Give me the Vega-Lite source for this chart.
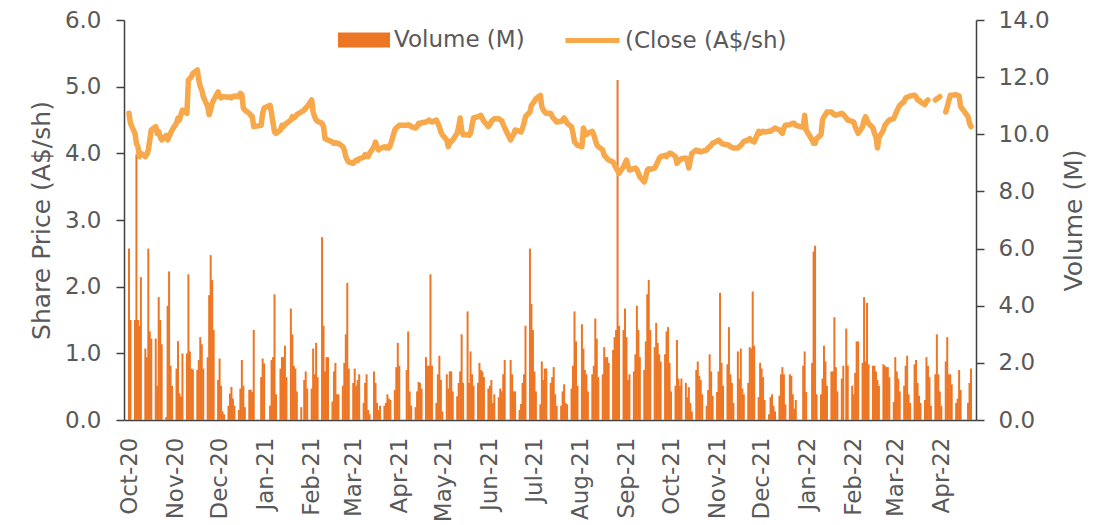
{
"$schema":"https://vega.github.io/schema/vega-lite/v6.json",
"autosize":{"type":"none"},
"width":852,"height":400,
"padding":{"left":124,"top":20,"right":131,"bottom":105},
"config":{"font":"DejaVu Sans","view":{"stroke":null},
 "axis":{"domainColor":"#404040","domainWidth":1.5,"tickColor":"#404040","tickWidth":1.5,"tickSize":8,"labelColor":"#595959","labelFontSize":23,"titleColor":"#595959","titleFontSize":25,"titleFontWeight":"normal","grid":false},
 "legend":{"labelColor":"#595959","labelFontSize":23,"padding":0,"labelLimit":400}},
"data":{"values":[
{"d":"2020-10-01","v":6.0,"c":4.60},{"d":"2020-10-02","v":3.5,"c":4.45},
{"d":"2020-10-05","v":3.5,"c":4.30},{"d":"2020-10-06","v":9.3,"c":4.15},{"d":"2020-10-07","v":3.5,"c":4.10},{"d":"2020-10-08","v":3.3,"c":3.95},{"d":"2020-10-09","v":5.0,"c":4.00},
{"d":"2020-10-12","v":2.5,"c":3.95},{"d":"2020-10-13","v":2.2,"c":3.98},{"d":"2020-10-14","v":6.0,"c":4.05},{"d":"2020-10-15","v":3.1,"c":4.20},{"d":"2020-10-16","v":2.85,"c":4.35},
{"d":"2020-10-19","v":2.85,"c":4.40},{"d":"2020-10-20","v":1.2,"c":4.30},{"d":"2020-10-21","v":4.3,"c":4.33},{"d":"2020-10-22","v":3.5,"c":4.25},{"d":"2020-10-23","v":2.65,"c":4.20},
{"d":"2020-10-26","v":0.1,"c":4.27},{"d":"2020-10-27","v":4.0,"c":4.20},{"d":"2020-10-28","v":5.2,"c":4.25},{"d":"2020-10-29","v":1.9,"c":4.30},{"d":"2020-10-30","v":1.2,"c":4.35},
{"d":"2020-11-02","v":1.8,"c":4.45},{"d":"2020-11-03","v":2.76,"c":4.53},{"d":"2020-11-04","v":0.93,"c":4.50},{"d":"2020-11-05","v":0.82,"c":4.58},{"d":"2020-11-06","v":2.33,"c":4.65},
{"d":"2020-11-09","v":2.33,"c":4.60},{"d":"2020-11-10","v":5.1,"c":5.10},{"d":"2020-11-11","v":2.4,"c":5.12},{"d":"2020-11-12","v":1.8,"c":5.15},{"d":"2020-11-13","v":1.77,"c":5.20},
{"d":"2020-11-16","v":1.75,"c":5.25},{"d":"2020-11-17","v":2.1,"c":5.10},{"d":"2020-11-18","v":2.9,"c":5.00},{"d":"2020-11-19","v":2.65,"c":4.95},{"d":"2020-11-20","v":1.8,"c":4.85},
{"d":"2020-11-23","v":2.2,"c":4.70},{"d":"2020-11-24","v":4.37,"c":4.58},{"d":"2020-11-25","v":5.77,"c":4.65},{"d":"2020-11-26","v":4.9,"c":4.75},{"d":"2020-11-27","v":3.15,"c":4.80},
{"d":"2020-11-30","v":1.4,"c":4.92},{"d":"2020-12-01","v":2.15,"c":4.85},{"d":"2020-12-02","v":1.2,"c":4.83},{"d":"2020-12-03","v":0.3,"c":4.85},{"d":"2020-12-04","v":0.2,"c":4.85},
{"d":"2020-12-07","v":0.5,"c":4.84},{"d":"2020-12-08","v":0.93,"c":4.85},{"d":"2020-12-09","v":1.16,"c":4.83},{"d":"2020-12-10","v":0.75,"c":4.85},{"d":"2020-12-11","v":0.5,"c":4.86},
{"d":"2020-12-14","v":0.35,"c":4.85},{"d":"2020-12-15","v":1.1,"c":4.90},{"d":"2020-12-16","v":2.1,"c":4.88},{"d":"2020-12-17","v":1.2,"c":4.68},{"d":"2020-12-18","v":0.45,"c":4.65},
{"d":"2020-12-21","v":1.06,"c":4.60},{"d":"2020-12-22","v":1.06,"c":4.57},{"d":"2020-12-23","v":0.98,"c":4.55},{"d":"2020-12-24","v":3.15,"c":4.40},
{"d":"2020-12-29","v":1.5,"c":4.42},{"d":"2020-12-30","v":2.15,"c":4.60},{"d":"2020-12-31","v":1.98,"c":4.68},
{"d":"2021-01-04","v":0.5,"c":4.72},{"d":"2021-01-05","v":2.1,"c":4.60},{"d":"2021-01-06","v":2.2,"c":4.45},{"d":"2021-01-07","v":4.4,"c":4.32},{"d":"2021-01-08","v":0.9,"c":4.30},
{"d":"2021-01-11","v":1.8,"c":4.35},{"d":"2021-01-12","v":2.2,"c":4.42},{"d":"2021-01-13","v":2.2,"c":4.40},{"d":"2021-01-14","v":2.6,"c":4.43},{"d":"2021-01-15","v":1.5,"c":4.45},
{"d":"2021-01-18","v":3.9,"c":4.50},{"d":"2021-01-19","v":3.0,"c":4.55},{"d":"2021-01-20","v":1.9,"c":4.53},{"d":"2021-01-21","v":1.8,"c":4.55},{"d":"2021-01-22","v":1.0,"c":4.58},
{"d":"2021-01-25","v":0.45,"c":4.62},{"d":"2021-01-27","v":1.4,"c":4.65},{"d":"2021-01-28","v":1.7,"c":4.68},{"d":"2021-01-29","v":1.1,"c":4.70},
{"d":"2021-02-01","v":1.1,"c":4.80},{"d":"2021-02-02","v":2.5,"c":4.62},{"d":"2021-02-03","v":1.6,"c":4.55},{"d":"2021-02-04","v":2.7,"c":4.50},{"d":"2021-02-05","v":1.5,"c":4.48},
{"d":"2021-02-08","v":6.4,"c":4.45},{"d":"2021-02-09","v":3.3,"c":4.40},{"d":"2021-02-10","v":1.7,"c":4.22},{"d":"2021-02-11","v":2.2,"c":4.21},{"d":"2021-02-12","v":2.2,"c":4.20},
{"d":"2021-02-15","v":0.65,"c":4.17},{"d":"2021-02-16","v":1.7,"c":4.15},{"d":"2021-02-17","v":2.0,"c":4.16},{"d":"2021-02-18","v":0.9,"c":4.15},{"d":"2021-02-19","v":0.9,"c":4.15},
{"d":"2021-02-22","v":1.2,"c":4.10},{"d":"2021-02-23","v":2.0,"c":4.05},{"d":"2021-02-24","v":3.0,"c":3.95},{"d":"2021-02-25","v":4.8,"c":3.90},{"d":"2021-02-26","v":1.8,"c":3.87},
{"d":"2021-03-01","v":1.3,"c":3.85},{"d":"2021-03-02","v":1.8,"c":3.88},{"d":"2021-03-03","v":1.2,"c":3.90},{"d":"2021-03-04","v":1.4,"c":3.89},{"d":"2021-03-05","v":1.6,"c":3.92},
{"d":"2021-03-08","v":0.6,"c":3.94},{"d":"2021-03-09","v":1.3,"c":3.98},{"d":"2021-03-10","v":1.6,"c":3.96},{"d":"2021-03-11","v":0.35,"c":3.95},{"d":"2021-03-12","v":0.2,"c":4.00},
{"d":"2021-03-15","v":1.7,"c":4.10},{"d":"2021-03-16","v":1.3,"c":4.17},{"d":"2021-03-17","v":0.6,"c":4.10},{"d":"2021-03-18","v":0.35,"c":4.05},{"d":"2021-03-19","v":0.5,"c":4.07},
{"d":"2021-03-22","v":0.5,"c":4.10},{"d":"2021-03-23","v":0.6,"c":4.08},{"d":"2021-03-24","v":0.9,"c":4.10},{"d":"2021-03-25","v":0.75,"c":4.08},{"d":"2021-03-26","v":0.7,"c":4.12},
{"d":"2021-03-29","v":1.05,"c":4.35},{"d":"2021-03-30","v":1.85,"c":4.38},{"d":"2021-03-31","v":2.7,"c":4.40},{"d":"2021-04-01","v":1.9,"c":4.42},
{"d":"2021-04-06","v":1.75,"c":4.42},{"d":"2021-04-07","v":3.1,"c":4.43},{"d":"2021-04-08","v":1.0,"c":4.42},{"d":"2021-04-09","v":0.5,"c":4.40},
{"d":"2021-04-12","v":0.45,"c":4.38},{"d":"2021-04-13","v":1.0,"c":4.40},{"d":"2021-04-14","v":1.33,"c":4.45},{"d":"2021-04-15","v":1.3,"c":4.44},{"d":"2021-04-16","v":1.1,"c":4.46},
{"d":"2021-04-19","v":2.2,"c":4.47},{"d":"2021-04-20","v":1.9,"c":4.48},{"d":"2021-04-21","v":1.9,"c":4.50},{"d":"2021-04-22","v":5.1,"c":4.48},{"d":"2021-04-23","v":1.9,"c":4.47},
{"d":"2021-04-26","v":0.6,"c":4.50},{"d":"2021-04-27","v":1.6,"c":4.45},{"d":"2021-04-28","v":2.25,"c":4.40},{"d":"2021-04-29","v":1.4,"c":4.32},{"d":"2021-04-30","v":0.3,"c":4.28},
{"d":"2021-05-03","v":1.6,"c":4.20},{"d":"2021-05-04","v":1.1,"c":4.10},{"d":"2021-05-05","v":1.7,"c":4.15},{"d":"2021-05-06","v":1.7,"c":4.18},{"d":"2021-05-07","v":1.0,"c":4.20},
{"d":"2021-05-10","v":0.83,"c":4.30},{"d":"2021-05-11","v":1.3,"c":4.40},{"d":"2021-05-12","v":1.7,"c":4.53},{"d":"2021-05-13","v":3.0,"c":4.35},{"d":"2021-05-14","v":1.3,"c":4.28},
{"d":"2021-05-17","v":3.8,"c":4.28},{"d":"2021-05-18","v":1.3,"c":4.27},{"d":"2021-05-19","v":2.4,"c":4.30},{"d":"2021-05-20","v":1.6,"c":4.42},{"d":"2021-05-21","v":1.2,"c":4.53},
{"d":"2021-05-24","v":1.3,"c":4.55},{"d":"2021-05-25","v":2.0,"c":4.56},{"d":"2021-05-26","v":1.75,"c":4.57},{"d":"2021-05-27","v":1.7,"c":4.52},{"d":"2021-05-28","v":1.5,"c":4.48},
{"d":"2021-05-31","v":1.1,"c":4.40},{"d":"2021-06-01","v":1.2,"c":4.43},{"d":"2021-06-02","v":1.4,"c":4.48},{"d":"2021-06-03","v":0.6,"c":4.50},{"d":"2021-06-04","v":0.9,"c":4.52},
{"d":"2021-06-07","v":0.8,"c":4.52},{"d":"2021-06-08","v":1.1,"c":4.50},{"d":"2021-06-09","v":1.0,"c":4.49},{"d":"2021-06-10","v":1.6,"c":4.43},{"d":"2021-06-11","v":2.1,"c":4.38},
{"d":"2021-06-15","v":2.1,"c":4.20},{"d":"2021-06-16","v":1.6,"c":4.25},{"d":"2021-06-17","v":1.0,"c":4.28},{"d":"2021-06-18","v":1.0,"c":4.35},
{"d":"2021-06-21","v":0.35,"c":4.33},{"d":"2021-06-22","v":0.56,"c":4.32},{"d":"2021-06-23","v":1.3,"c":4.38},{"d":"2021-06-24","v":1.6,"c":4.45},{"d":"2021-06-25","v":3.3,"c":4.55},
{"d":"2021-06-28","v":6.0,"c":4.62},{"d":"2021-06-29","v":4.06,"c":4.72},{"d":"2021-06-30","v":3.15,"c":4.75},{"d":"2021-07-01","v":1.7,"c":4.78},{"d":"2021-07-02","v":1.0,"c":4.82},
{"d":"2021-07-05","v":0.55,"c":4.87},{"d":"2021-07-06","v":2.05,"c":4.70},{"d":"2021-07-07","v":1.4,"c":4.65},{"d":"2021-07-08","v":1.8,"c":4.62},{"d":"2021-07-09","v":1.8,"c":4.60},
{"d":"2021-07-12","v":1.3,"c":4.60},{"d":"2021-07-13","v":1.5,"c":4.55},{"d":"2021-07-14","v":1.85,"c":4.52},{"d":"2021-07-15","v":0.9,"c":4.50},{"d":"2021-07-16","v":0.5,"c":4.47},
{"d":"2021-07-19","v":0.5,"c":4.48},{"d":"2021-07-20","v":1.0,"c":4.50},{"d":"2021-07-21","v":1.25,"c":4.53},{"d":"2021-07-22","v":0.6,"c":4.50},{"d":"2021-07-23","v":0.55,"c":4.45},
{"d":"2021-07-26","v":1.1,"c":4.40},{"d":"2021-07-27","v":1.9,"c":4.30},{"d":"2021-07-28","v":3.8,"c":4.17},{"d":"2021-07-29","v":2.75,"c":4.15},{"d":"2021-07-30","v":1.2,"c":4.12},
{"d":"2021-08-02","v":3.35,"c":4.10},{"d":"2021-08-03","v":2.5,"c":4.38},{"d":"2021-08-04","v":1.75,"c":4.32},{"d":"2021-08-05","v":1.6,"c":4.28},{"d":"2021-08-06","v":1.0,"c":4.30},
{"d":"2021-08-09","v":1.6,"c":4.33},{"d":"2021-08-10","v":1.9,"c":4.28},{"d":"2021-08-11","v":3.55,"c":4.20},{"d":"2021-08-12","v":2.85,"c":4.13},{"d":"2021-08-13","v":1.5,"c":4.10},
{"d":"2021-08-16","v":1.6,"c":4.05},{"d":"2021-08-17","v":2.55,"c":3.97},{"d":"2021-08-18","v":2.2,"c":3.95},{"d":"2021-08-19","v":2.2,"c":3.92},{"d":"2021-08-20","v":2.0,"c":3.90},
{"d":"2021-08-23","v":2.45,"c":3.87},{"d":"2021-08-24","v":2.9,"c":3.82},{"d":"2021-08-25","v":3.15,"c":3.78},{"d":"2021-08-26","v":11.9,"c":3.74},{"d":"2021-08-27","v":3.3,"c":3.70},
{"d":"2021-08-30","v":3.15,"c":3.80},{"d":"2021-08-31","v":3.9,"c":3.85},{"d":"2021-09-01","v":2.9,"c":3.90},{"d":"2021-09-02","v":1.4,"c":3.82},{"d":"2021-09-03","v":1.6,"c":3.75},
{"d":"2021-09-06","v":1.7,"c":3.77},{"d":"2021-09-07","v":2.3,"c":3.78},{"d":"2021-09-08","v":4.0,"c":3.76},{"d":"2021-09-09","v":3.15,"c":3.70},{"d":"2021-09-10","v":2.2,"c":3.65},
{"d":"2021-09-13","v":1.75,"c":3.57},{"d":"2021-09-14","v":2.75,"c":3.65},{"d":"2021-09-15","v":4.4,"c":3.75},{"d":"2021-09-16","v":4.9,"c":3.77},{"d":"2021-09-17","v":3.15,"c":3.76},
{"d":"2021-09-20","v":2.55,"c":3.78},{"d":"2021-09-21","v":3.4,"c":3.82},{"d":"2021-09-22","v":2.7,"c":3.87},{"d":"2021-09-23","v":2.3,"c":3.92},{"d":"2021-09-24","v":2.05,"c":3.95},
{"d":"2021-09-27","v":2.3,"c":3.97},{"d":"2021-09-28","v":3.1,"c":3.95},{"d":"2021-09-29","v":3.25,"c":3.98},{"d":"2021-09-30","v":2.0,"c":4.00},{"d":"2021-10-01","v":1.0,"c":4.00},
{"d":"2021-10-04","v":1.2,"c":3.95},{"d":"2021-10-05","v":2.8,"c":3.85},{"d":"2021-10-06","v":1.45,"c":3.88},{"d":"2021-10-07","v":1.2,"c":3.90},{"d":"2021-10-08","v":1.45,"c":3.92},
{"d":"2021-10-11","v":1.3,"c":3.93},{"d":"2021-10-12","v":0.8,"c":3.88},{"d":"2021-10-13","v":1.15,"c":3.78},{"d":"2021-10-14","v":0.6,"c":3.90},{"d":"2021-10-15","v":0.3,"c":4.00},
{"d":"2021-10-18","v":1.75,"c":4.05},{"d":"2021-10-19","v":2.05,"c":4.03},{"d":"2021-10-20","v":1.55,"c":4.04},{"d":"2021-10-21","v":1.4,"c":4.02},{"d":"2021-10-22","v":0.9,"c":4.03},
{"d":"2021-10-25","v":0.5,"c":4.05},{"d":"2021-10-26","v":1.05,"c":4.08},{"d":"2021-10-27","v":2.3,"c":4.10},{"d":"2021-10-28","v":1.7,"c":4.12},{"d":"2021-10-29","v":0.85,"c":4.15},
{"d":"2021-11-01","v":0.98,"c":4.18},{"d":"2021-11-02","v":1.7,"c":4.20},{"d":"2021-11-03","v":4.45,"c":4.18},{"d":"2021-11-04","v":2.0,"c":4.15},{"d":"2021-11-05","v":1.2,"c":4.14},
{"d":"2021-11-08","v":1.95,"c":4.13},{"d":"2021-11-09","v":3.25,"c":4.12},{"d":"2021-11-10","v":1.6,"c":4.10},{"d":"2021-11-11","v":1.3,"c":4.09},{"d":"2021-11-12","v":0.6,"c":4.08},
{"d":"2021-11-15","v":2.4,"c":4.08},{"d":"2021-11-16","v":1.45,"c":4.10},{"d":"2021-11-17","v":2.5,"c":4.12},{"d":"2021-11-18","v":1.1,"c":4.15},{"d":"2021-11-19","v":0.9,"c":4.18},
{"d":"2021-11-22","v":1.3,"c":4.20},{"d":"2021-11-23","v":2.55,"c":4.22},{"d":"2021-11-24","v":2.5,"c":4.20},{"d":"2021-11-25","v":4.5,"c":4.18},{"d":"2021-11-26","v":2.6,"c":4.17},
{"d":"2021-11-29","v":0.8,"c":4.33},{"d":"2021-11-30","v":2.0,"c":4.30},{"d":"2021-12-01","v":1.8,"c":4.32},{"d":"2021-12-02","v":1.5,"c":4.33},{"d":"2021-12-03","v":0.7,"c":4.32},
{"d":"2021-12-06","v":0.2,"c":4.33},{"d":"2021-12-07","v":0.8,"c":4.33},{"d":"2021-12-08","v":0.9,"c":4.35},{"d":"2021-12-09","v":0.5,"c":4.36},{"d":"2021-12-10","v":0.3,"c":4.38},
{"d":"2021-12-13","v":0.85,"c":4.35},{"d":"2021-12-14","v":1.6,"c":4.33},{"d":"2021-12-15","v":1.85,"c":4.30},{"d":"2021-12-16","v":1.6,"c":4.38},{"d":"2021-12-17","v":0.55,"c":4.42},
{"d":"2021-12-20","v":1.6,"c":4.43},{"d":"2021-12-21","v":1.55,"c":4.44},{"d":"2021-12-22","v":0.9,"c":4.45},{"d":"2021-12-23","v":0.4,"c":4.45},{"d":"2021-12-24","v":0.7,"c":4.42},
{"d":"2021-12-29","v":1.9,"c":4.39},{"d":"2021-12-30","v":2.4,"c":4.57},{"d":"2021-12-31","v":0.98,"c":4.35},
{"d":"2022-01-04","v":2.0,"c":4.20},{"d":"2022-01-05","v":5.9,"c":4.15},{"d":"2022-01-06","v":6.1,"c":4.15},{"d":"2022-01-07","v":0.9,"c":4.22},
{"d":"2022-01-10","v":0.9,"c":4.28},{"d":"2022-01-11","v":1.45,"c":4.50},{"d":"2022-01-12","v":2.6,"c":4.55},{"d":"2022-01-13","v":2.05,"c":4.58},{"d":"2022-01-14","v":1.2,"c":4.62},
{"d":"2022-01-17","v":1.7,"c":4.62},{"d":"2022-01-18","v":1.7,"c":4.60},{"d":"2022-01-19","v":3.6,"c":4.58},{"d":"2022-01-20","v":1.85,"c":4.57},{"d":"2022-01-21","v":1.0,"c":4.58},
{"d":"2022-01-24","v":1.45,"c":4.60},{"d":"2022-01-25","v":1.9,"c":4.58},{"d":"2022-01-27","v":3.2,"c":4.53},{"d":"2022-01-28","v":1.9,"c":4.50},
{"d":"2022-01-31","v":1.2,"c":4.48},{"d":"2022-02-01","v":0.9,"c":4.47},{"d":"2022-02-02","v":1.65,"c":4.40},{"d":"2022-02-03","v":2.75,"c":4.35},{"d":"2022-02-04","v":2.75,"c":4.30},
{"d":"2022-02-07","v":2.0,"c":4.40},{"d":"2022-02-08","v":4.3,"c":4.50},{"d":"2022-02-09","v":2.05,"c":4.55},{"d":"2022-02-10","v":4.1,"c":4.50},{"d":"2022-02-11","v":1.95,"c":4.45},
{"d":"2022-02-14","v":1.9,"c":4.38},{"d":"2022-02-15","v":1.9,"c":4.30},{"d":"2022-02-16","v":1.7,"c":4.25},{"d":"2022-02-17","v":1.4,"c":4.08},{"d":"2022-02-18","v":1.2,"c":4.23},
{"d":"2022-02-21","v":1.95,"c":4.35},{"d":"2022-02-22","v":1.9,"c":4.42},{"d":"2022-02-23","v":1.85,"c":4.45},{"d":"2022-02-24","v":1.85,"c":4.48},{"d":"2022-02-25","v":1.5,"c":4.50},
{"d":"2022-02-28","v":0.63,"c":4.52},{"d":"2022-03-01","v":2.2,"c":4.58},{"d":"2022-03-02","v":1.7,"c":4.63},{"d":"2022-03-03","v":1.45,"c":4.68},{"d":"2022-03-04","v":1.0,"c":4.72},
{"d":"2022-03-07","v":1.2,"c":4.78},{"d":"2022-03-08","v":1.9,"c":4.83},{"d":"2022-03-09","v":2.25,"c":4.84},{"d":"2022-03-10","v":0.9,"c":4.85},{"d":"2022-03-11","v":0.6,"c":4.86},
{"d":"2022-03-14","v":1.95,"c":4.87},{"d":"2022-03-15","v":2.1,"c":4.85},{"d":"2022-03-16","v":1.3,"c":4.80},{"d":"2022-03-17","v":0.85,"c":4.80},{"d":"2022-03-18","v":0.6,"c":4.77},
{"d":"2022-03-21","v":0.7,"c":4.73},{"d":"2022-03-22","v":2.2,"c":4.78},{"d":"2022-03-23","v":1.9,"c":4.80},{"d":"2022-03-24","v":1.5,"c":null},{"d":"2022-03-25","v":0.5,"c":null},
{"d":"2022-03-28","v":1.6,"c":4.80},{"d":"2022-03-29","v":3.0,"c":4.82},{"d":"2022-03-30","v":1.6,"c":4.83},{"d":"2022-03-31","v":1.0,"c":4.85},{"d":"2022-04-01","v":0.5,"c":null},
{"d":"2022-04-04","v":2.05,"c":4.62},{"d":"2022-04-05","v":2.9,"c":4.70},{"d":"2022-04-06","v":1.6,"c":4.78},{"d":"2022-04-07","v":1.6,"c":4.87},{"d":"2022-04-08","v":1.25,"c":4.87},
{"d":"2022-04-11","v":0.6,"c":4.88},{"d":"2022-04-12","v":0.75,"c":4.87},{"d":"2022-04-13","v":1.75,"c":4.86},{"d":"2022-04-14","v":1.05,"c":4.70},
{"d":"2022-04-19","v":0.6,"c":4.55},{"d":"2022-04-20","v":1.3,"c":4.45},{"d":"2022-04-21","v":1.8,"c":4.40}
]},
"encoding":{
 "x":{"field":"d","type":"temporal",
  "scale":{"type":"utc","domain":[{"year":2020,"month":10,"date":1,"utc":true},{"year":2022,"month":4,"date":21,"utc":true}]},
  "axis":{"title":null,"tickCount":{"interval":"month","step":1},"labelExpr":"utcFormat(datum.value, '%b-%y')","labelAngle":270,"labelAlign":"right","labelBaseline":"middle","labelPadding":17,"ticks":false,"tickSize":0,"labelFlush":false,"labelOverlap":false,"labelBound":false}}
},
"layer":[
 {"mark":{"type":"bar","size":2},
  "encoding":{
   "y":{"field":"v","type":"quantitative","scale":{"domain":[0,14]},
    "axis":{"orient":"right","title":"Volume (M)","values":[0,2,4,6,8,10,12,14],"format":".1f","labelPadding":14,"titleAngle":270,"titleBaseline":"top","titlePadding":12}},
   "color":{"datum":"Volume (M)","scale":{"range":["#ED7625"]},
    "legend":{"title":null,"orient":"none","legendX":214,"legendY":-6,"symbolType":"M-1,-0.29H1V0.29H-1Z","symbolSize":2704,"symbolStrokeWidth":0,"labelOffset":4}}
  }},
 {"mark":{"type":"line","strokeWidth":5.5,"strokeCap":"round","strokeJoin":"round","invalid":"break-paths-show-domains"},
  "encoding":{
   "y":{"field":"c","type":"quantitative","scale":{"domain":[0,6]},
    "axis":{"orient":"left","title":"Share Price (A$/sh)","values":[0,1,2,3,4,5,6],"format":".1f","labelPadding":15,"titlePadding":10}},
   "stroke":{"datum":"(Close (A$/sh)","scale":{"range":["#F6A84B"]},
    "legend":{"title":null,"orient":"none","legendX":439,"legendY":-9,"symbolType":"stroke","symbolSize":2916,"symbolStrokeWidth":5,"labelOffset":3}}
  }}
],
"resolve":{"scale":{"y":"independent","color":"independent","stroke":"independent"},"axis":{"y":"independent"}}
}
